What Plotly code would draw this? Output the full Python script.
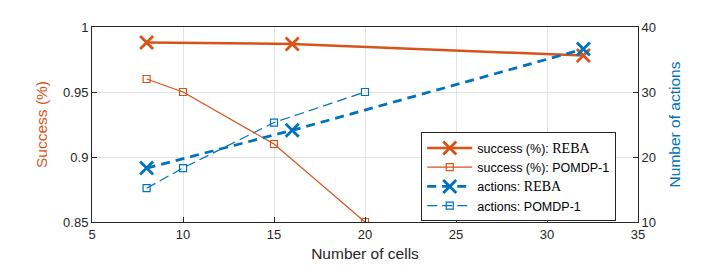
import plotly.graph_objects as go

# Data
reba_cells = [8, 16, 32]
reba_success = [0.988, 0.987, 0.978]
reba_actions = [18.3, 24.1, 36.6]

pomdp_cells = [8, 10, 15, 20]
pomdp_success = [0.96, 0.95, 0.91, 0.85]
pomdp_actions = [15.2, 18.3, 25.3, 30.0]

x_ticks = [5, 10, 15, 20, 25, 30, 35]
y1_ticks = [0.85, 0.9, 0.95, 1]
y1_ticktext = ["0.85", "0.9", "0.95", "1"]
y2_ticks = [10, 20, 30, 40]

ORANGE = "#D95319"
BLUE = "#0072BD"
AX = "#262626"
GRID = "#E3E3E3"
SERIF = "<span style=\"font-family:'Liberation Serif', 'Times New Roman', serif; font-size:14px\">REBA</span>"

fig = go.Figure()
fig.add_trace(go.Scatter(
    x=reba_cells, y=reba_success, mode="lines+markers",
    name="success (%): " + SERIF,
    line=dict(color=ORANGE, width=2.5),
    marker=dict(symbol="x-thin", size=13, line=dict(color=ORANGE, width=2.8)),
))
fig.add_trace(go.Scatter(
    x=pomdp_cells, y=pomdp_success, mode="lines+markers",
    name="success (%): POMDP-1",
    line=dict(color=ORANGE, width=1.2),
    marker=dict(symbol="square-open", size=7, color=ORANGE, line=dict(width=1.2)),
))
fig.add_trace(go.Scatter(
    x=reba_cells, y=reba_actions, mode="lines+markers", yaxis="y2",
    name="actions: " + SERIF,
    line=dict(color=BLUE, width=2.8, dash="9px,6px"),
    marker=dict(symbol="x-thin", size=13, line=dict(color=BLUE, width=2.8)),
))
fig.add_trace(go.Scatter(
    x=pomdp_cells, y=pomdp_actions, mode="lines+markers", yaxis="y2",
    name="actions: POMDP-1",
    line=dict(color=BLUE, width=1.2, dash="10px,5px"),
    marker=dict(symbol="square-open", size=7, color=BLUE, line=dict(width=1.2)),
))

font = dict(family="Liberation Sans, Arial, sans-serif", size=13, color=AX)
TITLE_SIZE = 15.5

fig.update_layout(
    width=706, height=267,
    margin=dict(l=84, r=76, t=12, b=53),
    plot_bgcolor="white", paper_bgcolor="white",
    font=font,
    showlegend=True,
    legend=dict(
        x=0.603, y=0.46, xanchor="left", yanchor="top",
        bgcolor="white", bordercolor=AX, borderwidth=1,
        font=dict(family="Liberation Sans, Arial, sans-serif", size=12.5, color="#000000"),
        tracegroupgap=0, itemwidth=45,
    ),
    xaxis=dict(
        range=[5, 35], tickvals=x_ticks, showgrid=True, gridcolor=GRID,
        zeroline=False, showline=True, linecolor=AX, linewidth=1, mirror=True,
        ticks="inside", ticklen=5, tickcolor=AX,
        title=dict(text="Number of cells", font=dict(size=TITLE_SIZE, color=AX), standoff=7),
        tickfont=dict(size=13, color=AX),
    ),
    yaxis=dict(
        range=[0.85, 1], tickvals=y1_ticks, ticktext=y1_ticktext, showgrid=True, gridcolor=GRID,
        zeroline=False, showline=True, linecolor=AX, linewidth=1,
        ticks="inside", ticklen=5, tickcolor=AX,
        title=dict(text="Success (%)", font=dict(size=TITLE_SIZE, color=ORANGE), standoff=11),
        tickfont=dict(size=13, color=AX),
    ),
    yaxis2=dict(
        range=[10, 40], tickvals=y2_ticks, overlaying="y", side="right",
        showgrid=False, zeroline=False, showline=True, linecolor=AX, linewidth=1,
        ticks="inside", ticklen=5, tickcolor=AX,
        title=dict(text="Number of actions", font=dict(size=TITLE_SIZE, color=BLUE), standoff=14),
        tickfont=dict(size=13, color=AX),
    ),
)

fig.write_html("out.html")
